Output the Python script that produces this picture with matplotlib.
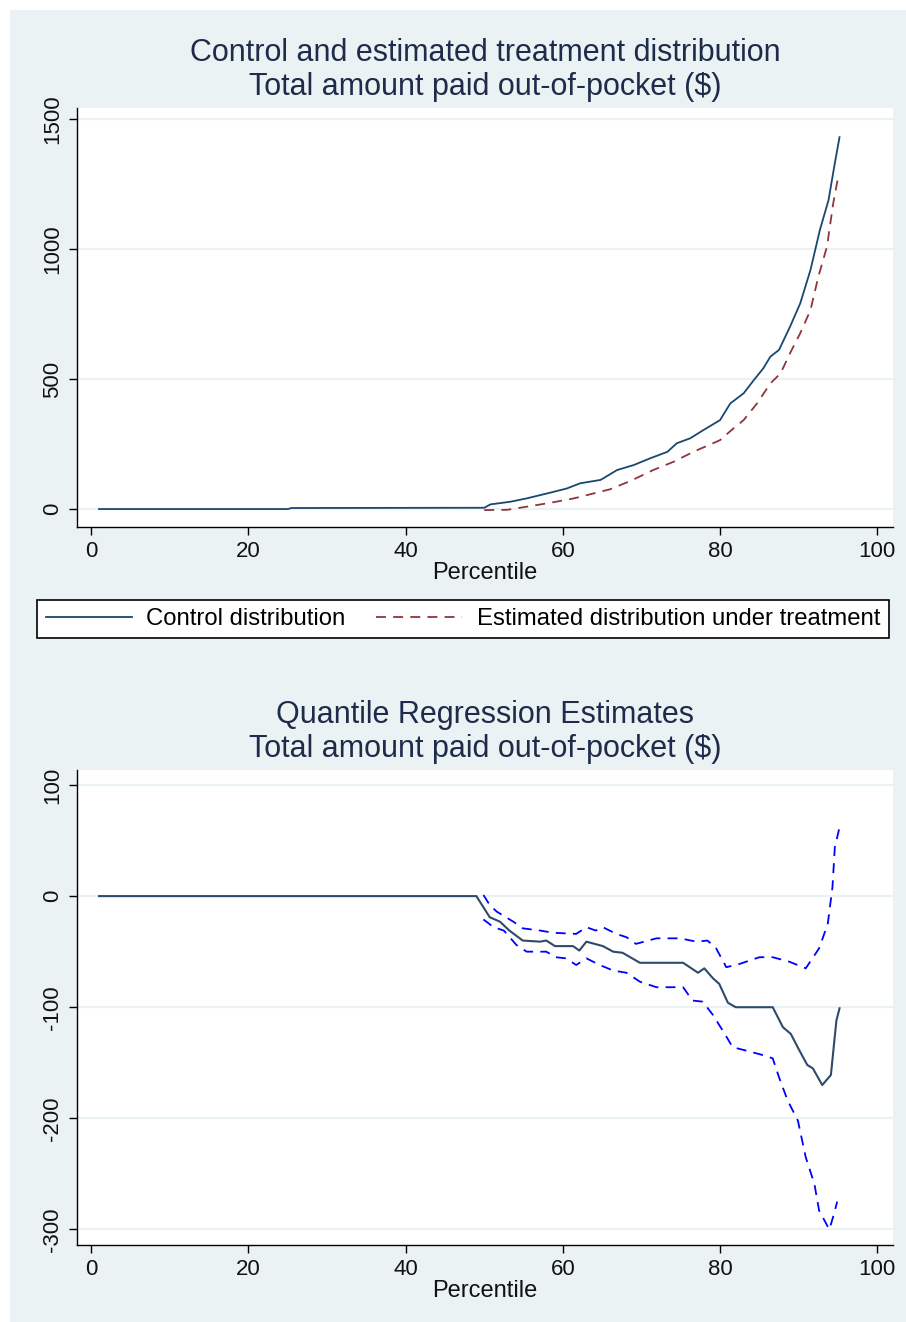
import matplotlib
matplotlib.use("Agg")
from matplotlib import pyplot as plt
from matplotlib.patches import Rectangle
from matplotlib.lines import Line2D

plt.rcParams["font.family"] = ["Liberation Sans", "DejaVu Sans"]
plt.rcParams["axes.unicode_minus"] = False

# top panel: control vs estimated treatment distribution
ctrl_p = [1, 25, 25.5, 50, 50.8, 53.3, 55.4, 58.4, 60.5, 62.2, 64.8, 66.9, 69.0, 71.1,
          73.3, 74.5, 76.2, 77.9, 80.0, 81.3, 83.0, 84.3, 85.5, 86.4, 87.5, 88.9, 90.2,
          91.5, 92.7, 93.8, 94.6, 95.2]
ctrl_v = [0, 0, 4, 5, 18, 28, 41, 63, 79, 99, 112, 150, 169, 195,
          220, 253, 272, 304, 342, 406, 445, 496, 541, 586, 612, 701, 791,
          919, 1073, 1188, 1330, 1430]
trt_p = [50, 52.9, 55.4, 58.4, 61.4, 63.9, 66.0, 68.6, 71.5, 74.1, 76.6, 80.0, 81.7,
         83.0, 84.7, 86.4, 87.7, 88.9, 90.2, 91.5, 92.5, 93.6, 94.4, 95.1]
trt_v = [-4, -3, 9, 24, 41, 60, 76, 108, 150, 182, 220, 265, 310,
         342, 406, 483, 522, 599, 676, 765, 893, 1009, 1176, 1290]

# bottom panel: quantile regression estimates and CI
est_p = [1, 49.0, 49.9, 50.7, 52.0, 53.2, 54.9, 57.1, 57.9, 59.0, 61.3, 62.1, 63.0, 65.1,
         66.4, 67.6, 69.8, 75.3, 77.2, 78.0, 79.1, 79.9, 81.0, 82.0, 86.7, 88.0, 89.0,
         90.1, 91.1, 91.8, 93.0, 94.1, 94.5, 94.8, 95.2]
est_v = [0, 0, -10, -19, -23, -31, -40, -41, -40, -45, -45, -49, -41, -45,
         -50, -51, -60, -60, -69, -65, -74, -79, -96, -100, -100, -118, -124,
         -139, -152, -155, -170, -161, -133, -112, -101]
hi_p = [49.9, 50.7, 51.6, 53.7, 54.9, 57.1, 58.8, 61.7, 63.0, 64.2, 65.1, 66.8, 68.1,
        69.3, 71.9, 74.9, 77.0, 78.4, 79.5, 80.8, 82.5, 85.0, 86.7, 88.8, 90.9, 92.6,
        93.7, 94.3, 94.6, 95.2]
hi_v = [1, -8, -14, -23, -29, -31, -33, -34, -28, -31, -28, -34, -37,
        -43, -38, -38, -41, -40, -47, -64, -61, -55, -55, -59, -65, -47,
        -25, 8, 44, 62]
lo_p = [49.9, 51.2, 52.5, 54.1, 55.4, 57.9, 59.1, 60.4, 61.7, 63.0, 64.7, 66.4, 68.1,
        69.8, 71.9, 75.3, 76.5, 77.8, 79.1, 80.6, 81.6, 83.3, 85.4, 86.7, 87.5, 88.6,
        89.9, 90.9, 92.0, 92.6, 93.9, 94.5, 94.9]
lo_v = [-21, -28, -31, -44, -50, -50, -55, -56, -62, -56, -62, -67, -69,
        -77, -82, -82, -94, -95, -107, -124, -136, -139, -143, -146, -163, -184,
        -202, -235, -259, -283, -300, -286, -275]

bg = "#eaf2f3"
navy = "#1a476f"
maroon = "#90353b"
dash = (5.5, 4)

W, H = 906, 1322
fig = plt.figure(figsize=(W / 100, H / 100), dpi=100, facecolor=bg)
# thin white margin on the top and left edges
fig.patches.append(Rectangle((0, 1 - 10 / H), 1, 10 / H, transform=fig.transFigure,
                             facecolor="white", edgecolor="none"))
fig.patches.append(Rectangle((0, 0), 10 / W, 1, transform=fig.transFigure,
                             facecolor="white", edgecolor="none"))


def px(l, t, r, b):
    return [l / W, 1 - b / H, (r - l) / W, (b - t) / H]


def style(ax, yticks):
    ax.set_facecolor("white")
    for s in ["top", "right"]:
        ax.spines[s].set_visible(False)
    for s in ["left", "bottom"]:
        ax.spines[s].set_color("black")
        ax.spines[s].set_linewidth(1.0)
    ax.set_xlim(-1.8, 102)
    ax.set_xticks([0, 20, 40, 60, 80, 100])
    ax.set_yticks(yticks)
    ax.tick_params(direction="out", length=6, width=1.0, labelsize=16, pad=4,
                   color="black", labelcolor="#111111")
    plt.setp(ax.get_yticklabels(), rotation=90, va="center")
    for y in yticks:
        ax.axhline(y, color=bg, lw=1.6, zorder=0)
    ax.set_xlabel("Percentile", fontsize=17, labelpad=0, color="#111111")


ax1 = fig.add_axes(px(77, 108, 893, 527))
ax1.plot(trt_p, trt_v, color=maroon, lw=1.3, dashes=dash)
ax1.plot(ctrl_p, ctrl_v, color=navy, lw=1.3)
ax1.set_ylim(-69, 1542)
style(ax1, [0, 500, 1000, 1500])
ax1.set_title("Control and estimated treatment distribution\nTotal amount paid out-of-pocket ($)",
              fontsize=22, color="#1e2b4a", pad=9, linespacing=1.18)

handles = [Line2D([], [], color=navy, lw=1.3),
           Line2D([], [], color=maroon, lw=1.3, dashes=dash)]
leg = fig.legend(handles, ["Control distribution", "Estimated distribution under treatment"],
                 loc="center", bbox_to_anchor=(463 / W, 1 - 619 / H), ncol=2,
                 fontsize=17.2, handlelength=3.6, columnspacing=1.3, handletextpad=0.6,
                 frameon=True, fancybox=False, borderpad=0.35, borderaxespad=0)
leg.get_frame().set_edgecolor("black")
leg.get_frame().set_linewidth(1.2)
leg.get_frame().set_facecolor("white")
leg.get_frame().set_alpha(1)

ax2 = fig.add_axes(px(77, 770, 893, 1245))
ax2.plot(hi_p, hi_v, color="#0000ff", lw=1.3, dashes=dash)
ax2.plot(lo_p, lo_v, color="#0000ff", lw=1.3, dashes=dash)
ax2.plot(est_p, est_v, color="#2e4a6b", lw=1.5)
ax2.set_ylim(-314, 113.5)
style(ax2, [-300, -200, -100, 0, 100])
ax2.set_title("Quantile Regression Estimates\nTotal amount paid out-of-pocket ($)",
              fontsize=22, color="#1e2b4a", pad=9, linespacing=1.18)

fig.savefig("out.png", dpi=100, facecolor=bg)
